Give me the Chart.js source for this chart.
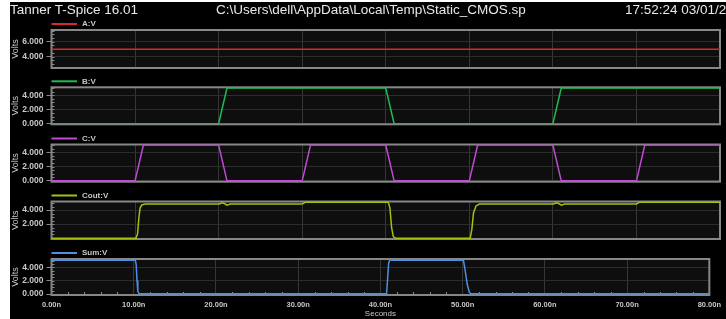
<!DOCTYPE html>
<html>
<head>
<meta charset="utf-8">
<script src="https://cdn.jsdelivr.net/npm/chart.js@4.4.1/dist/chart.umd.min.js"></script>
<style>
  html, body { margin: 0; padding: 0; background: #fff; width: 726px; height: 319px; overflow: hidden; }
  #win { position: absolute; left: 10px; top: 2px; width: 716px; height: 317px; background: #000; }
  canvas { position: absolute; left: 0; top: 0; }
  .hdr { position: absolute; top: 2px; z-index: 5; font: 13.5px "Liberation Sans", Arial, sans-serif;
         color: #e8e8e8; white-space: nowrap; line-height: 16px; }
</style>
</head>
<body>
<div id="win"></div>
<div class="hdr" style="left:10px">Tanner T-Spice 16.01</div>
<div class="hdr" style="left:216px">C:\Users\dell\AppData\Local\Temp\Static_CMOS.sp</div>
<div class="hdr" style="left:625px">17:52:24 03/01/2022</div>
<script>
// time axis (ns)
const timeTicks = [0, 10, 20, 30, 40, 50, 60, 70, 80];

// A:V
const aTime = [0, 80];
const aVolts = [5, 5];
const aTicks = [4, 6];

// B:V
const bTime = [0, 20, 21, 40, 41, 60, 61, 80];
const bVolts = [0, 0, 5, 5, 0, 0, 5, 5];
const bTicks = [0, 2, 4];

// C:V
const cTime = [0, 10, 11, 20, 21, 30, 31, 40, 41, 50, 51, 60, 61, 70, 71, 80];
const cVolts = [0, 0, 5, 5, 0, 0, 5, 5, 0, 0, 5, 5, 0, 0, 5, 5];
const cTicks = [0, 2, 4];

// Cout:V
const coutTime = [0, 10.1, 10.3, 10.45, 10.6, 10.8, 11.2, 20.1, 20.4, 20.7, 21.0, 21.4, 30.0, 30.4,
                  40.3, 40.5, 40.7, 40.9, 41.2, 50.1, 50.3, 50.5, 50.8, 51.2, 60.1, 60.4, 60.7, 61.0,
                  61.4, 70.0, 70.4, 80];
const coutVolts = [-0.05, -0.05, 0.6, 2.8, 4.3, 4.75, 4.88, 4.88, 5.05, 4.95, 4.72, 4.88, 4.88, 5.15,
                   5.15, 4.3, 1.5, 0.2, -0.05, -0.05, 1.2, 3.6, 4.6, 4.88, 4.88, 5.05, 4.95, 4.72,
                   4.88, 4.88, 5.15, 5.15];
const coutTicks = [2, 4];

// Sum:V
const sumTime = [0, 10.2, 10.3, 10.4, 10.5, 10.65, 40.75, 40.85, 41.0, 41.15, 41.4, 50.1, 50.3, 50.55, 50.8, 51.0, 80];
const sumVolts = [5.05, 5.05, 4.4, 2.0, 0.4, 0.05, 0.05, 1.8, 4.6, 5.15, 5.05, 5.05, 3.6, 1.5, 0.3, 0.05, 0.05];
const sumTicks = [0, 2, 4];

Chart.defaults.font.family = '"Liberation Sans", Arial, sans-serif';

const W = 726, H = 319;
const minorY = 0.5, minorX = 2;

// plot background, frame, minor ticks and legend entry
const frame = {
  id: 'frame',
  beforeDraw(chart) {
    const a = chart.chartArea, ctx = chart.ctx;
    ctx.save();
    ctx.fillStyle = '#0e0e0e';
    ctx.fillRect(a.left, a.top, a.right - a.left, a.bottom - a.top);
    ctx.restore();
  },
  beforeDatasetsDraw(chart) {
    const a = chart.chartArea, ctx = chart.ctx;
    const y = chart.scales.y, x = chart.scales.x;
    ctx.save();
    ctx.strokeStyle = '#8a8a8a';
    ctx.lineWidth = 1;
    // minor y ticks, inside
    for (let v = Math.ceil(y.min / minorY) * minorY; v <= y.max; v += minorY) {
      const py = Math.round(y.getPixelForValue(v)) + 0.5;
      ctx.beginPath(); ctx.moveTo(a.left, py); ctx.lineTo(a.left + 3, py); ctx.stroke();
    }
    if (chart.options.plugins.frame.minorX) {
      for (let t = minorX; t < x.max; t += minorX) {
        if (t % 10 === 0) continue;
        const px = Math.round(x.getPixelForValue(t)) + 0.5;
        ctx.beginPath(); ctx.moveTo(px, a.bottom); ctx.lineTo(px, a.bottom - 3); ctx.stroke();
      }
    }
    ctx.lineWidth = 2;
    ctx.strokeStyle = '#878787';
    ctx.strokeRect(a.left, a.top, a.right - a.left, a.bottom - a.top);
    ctx.restore();
  },
  afterDraw(chart) {
    const a = chart.chartArea, ctx = chart.ctx;
    const ds = chart.data.datasets[0];
    const ly = a.top - 6;
    ctx.save();
    ctx.strokeStyle = ds.borderColor;
    ctx.lineWidth = 2;
    ctx.beginPath(); ctx.moveTo(a.left, ly); ctx.lineTo(77, ly); ctx.stroke();
    ctx.fillStyle = '#c8c8c8';
    ctx.font = 'bold 8px "Liberation Sans", Arial, sans-serif';
    ctx.textBaseline = 'middle';
    ctx.fillText(ds.label, 82, ly);
    ctx.restore();
  }
};

function panel(p) {
  const canvas = document.createElement('canvas');
  canvas.width = W; canvas.height = H;
  document.body.appendChild(canvas);
  const last = !!p.last;
  const xh = last ? 24 : 0;
  new Chart(canvas, {
    type: 'line',
    data: {
      datasets: [{
        label: p.label,
        data: p.time.map((t, i) => ({ x: t, y: p.volts[i] })),
        borderColor: p.color,
        borderWidth: 1.5,
        pointRadius: 0,
        tension: 0,
        fill: false
      }]
    },
    options: {
      responsive: false,
      animation: false,
      events: [],
      layout: { padding: { left: 10, right: 6, top: p.top, bottom: H - p.bottom - xh } },
      plugins: { legend: { display: false }, tooltip: { enabled: false }, frame: { minorX: last } },
      scales: {
        x: {
          type: 'linear', min: 0, max: 80,
          afterFit: s => { s.height = xh; },
          afterBuildTicks: s => { s.ticks = timeTicks.map(v => ({ value: v })); },
          grid: { color: '#363636', drawTicks: false },
          border: { display: false },
          ticks: { display: last, padding: 5, color: '#c8c8c8', maxRotation: 0, autoSkip: false,
                   font: { size: 7.5, weight: 'bold' }, callback: v => v.toFixed(2) + 'n' },
          title: { display: last, text: 'Seconds', color: '#c8c8c8', font: { size: 8 }, padding: { top: 0, bottom: 0 } }
        },
        y: {
          min: p.min, max: p.max,
          afterFit: s => { s.width = 41.5; },
          afterBuildTicks: s => { s.ticks = p.ticks.map(v => ({ value: v })); },
          grid: { color: '#2c2c2c', tickColor: '#8a8a8a', tickLength: 5 },
          border: { display: false },
          ticks: { color: '#c8c8c8', padding: 3, autoSkip: false,
                   font: { size: 8.5, weight: 'bold' }, callback: v => v.toFixed(3) },
          title: { display: true, text: 'Volts', color: '#c8c8c8', font: { size: 9 }, padding: 0 }
        }
      }
    },
    plugins: [frame]
  });
}

panel({ label: 'A:V', time: aTime, volts: aVolts, ticks: aTicks, color: '#d82828', top: 30, bottom: 68, min: 2.45, max: 7.6 });
panel({ label: 'B:V', time: bTime, volts: bVolts, ticks: bTicks, color: '#1cbc55', top: 87.3, bottom: 124.3, min: -0.08, max: 5.1 });
panel({ label: 'C:V', time: cTime, volts: cVolts, ticks: cTicks, color: '#c04ad6', top: 144.5, bottom: 181.7, min: -0.12, max: 5.08 });
panel({ label: 'Cout:V', time: coutTime, volts: coutVolts, ticks: coutTicks, color: '#a6c010', top: 201.5, bottom: 239, min: -0.15, max: 5.24 });
panel({ label: 'Sum:V', time: sumTime, volts: sumVolts, ticks: sumTicks, color: '#4f8fe0', top: 259, bottom: 295, min: -0.15, max: 5.25, last: true });
</script>
</body>
</html>
